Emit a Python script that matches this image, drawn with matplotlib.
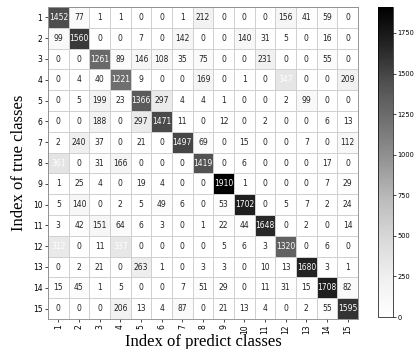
import numpy as np
import matplotlib
matplotlib.use('Agg')
import matplotlib.pyplot as plt

classes = [str(i) for i in range(1, 16)]

row_1 = [1452, 77, 1, 1, 0, 0, 1, 212, 0, 0, 0, 156, 41, 59, 0]
row_2 = [99, 1560, 0, 0, 7, 0, 142, 0, 0, 140, 31, 5, 0, 16, 0]
row_3 = [0, 0, 1261, 89, 146, 108, 35, 75, 0, 0, 231, 0, 0, 55, 0]
row_4 = [0, 4, 40, 1221, 9, 0, 0, 169, 0, 1, 0, 347, 0, 0, 209]
row_5 = [0, 5, 199, 23, 1366, 297, 4, 4, 1, 0, 0, 2, 99, 0, 0]
row_6 = [0, 0, 188, 0, 297, 1471, 11, 0, 12, 0, 2, 0, 0, 6, 13]
row_7 = [2, 240, 37, 0, 21, 0, 1497, 69, 0, 15, 0, 0, 7, 0, 112]
row_8 = [361, 0, 31, 166, 0, 0, 0, 1419, 0, 6, 0, 0, 0, 17, 0]
row_9 = [1, 25, 4, 0, 19, 4, 0, 0, 1910, 1, 0, 0, 0, 7, 29]
row_10 = [5, 140, 0, 2, 5, 49, 6, 0, 53, 1702, 0, 5, 7, 2, 24]
row_11 = [3, 42, 151, 64, 6, 3, 0, 1, 22, 44, 1648, 0, 2, 0, 14]
row_12 = [312, 0, 11, 337, 0, 0, 0, 0, 5, 6, 3, 1320, 0, 6, 0]
row_13 = [0, 2, 21, 0, 263, 1, 0, 3, 3, 0, 10, 13, 1680, 3, 1]
row_14 = [15, 45, 1, 5, 0, 0, 7, 51, 29, 0, 11, 31, 15, 1708, 82]
row_15 = [0, 0, 0, 206, 13, 4, 87, 0, 21, 13, 4, 0, 2, 55, 1595]

cm = np.array([row_1, row_2, row_3, row_4, row_5, row_6, row_7, row_8,
               row_9, row_10, row_11, row_12, row_13, row_14, row_15])

fig = plt.figure(figsize=(4.16, 3.49), dpi=100)
ax = fig.add_axes([48/416, 1-319/349, 310/416, 312/349])
cax = fig.add_axes([378/416, 1-317/349, 15/416, 310/349])

mesh = ax.pcolormesh(cm, cmap='Greys', vmin=0, vmax=cm.max(),
                     edgecolors='#d0d0d0', linewidth=0.6)
ax.set_xlim(0, 15)
ax.set_ylim(15, 0)

for i in range(15):
    for j in range(15):
        v = cm[i, j]
        ax.text(j + 0.5, i + 0.5, str(v), ha='center', va='center',
                fontsize=5.5, color='white' if v > 300 else '#222222')

ax.set_xticks(np.arange(15) + 0.5)
ax.set_xticklabels(classes, rotation=90, fontsize=5.5)
ax.set_yticks(np.arange(15) + 0.5)
ax.set_yticklabels(classes, fontsize=5.5)
ax.tick_params(length=2, width=0.5, pad=2)
for s in ax.spines.values():
    s.set_linewidth(0.6)
    s.set_color('#888888')

ax.set_xlabel('Index of predict classes', family='Liberation Serif', fontsize=12, labelpad=0)
ax.set_ylabel('Index of true classes', family='Liberation Serif', fontsize=12, labelpad=4)

cb = fig.colorbar(mesh, cax=cax)
cb.set_ticks([0, 250, 500, 750, 1000, 1250, 1500, 1750])
cb.ax.tick_params(labelsize=4.8, length=2, width=0.5, pad=1.2)
cb.outline.set_linewidth(0.5)

fig.savefig('out.png', dpi=100)
